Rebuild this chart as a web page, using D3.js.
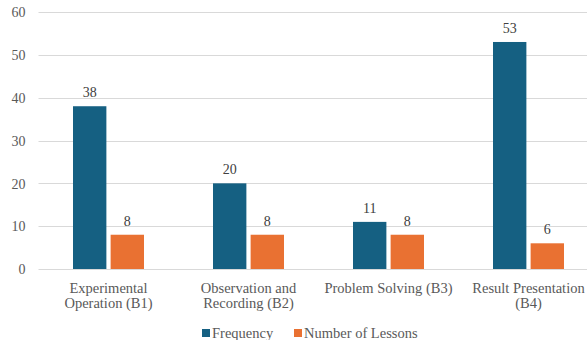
<!DOCTYPE html>
<html>
<head>
<meta charset="utf-8">
<script src="https://cdn.jsdelivr.net/npm/d3@7"></script>
<style>
  html, body { margin: 0; padding: 0; background: #ffffff; }
  svg text { font-family: "Liberation Serif", "DejaVu Serif", serif; }
</style>
</head>
<body>
<svg id="chart" width="587" height="340"></svg>
<script>
// Skill categories (two-line labels) and the two series per category
const categories = ["Experimental Operation (B1)", "Observation and Recording (B2)", "Problem Solving (B3)", "Result Presentation (B4)"];
const categoryLines = [["Experimental", "Operation (B1)"], ["Observation and", "Recording (B2)"], ["Problem Solving (B3)"], ["Result Presentation", "(B4)"]];
const seriesNames = ["Frequency", "Number of Lessons"];
const frequency = [38, 20, 11, 53];
const lessons = [8, 8, 8, 6];
const yTicks = [0, 10, 20, 30, 40, 50, 60];
const colors = ["#156082", "#E97132"];

const FONT = "'Liberation Serif', 'DejaVu Serif', serif";
const svg = d3.select("#chart");
const plot = { left: 38.5, right: 598.5, top: 12, bottom: 269 };

const x0 = d3.scaleBand().domain(categories).range([plot.left, plot.right]).padding(0);
const y = d3.scaleLinear().domain([0, 60]).range([plot.bottom, plot.top]);
const barW = 31.5, barGap = 8;
const x1 = d3.scaleBand().domain(seriesNames)
  .range([-(barW + barGap / 2), barW + barGap / 2]).paddingInner(barGap / (2 * barW + barGap));

// Gridlines and value axis labels
const yAxis = d3.axisLeft(y).tickValues(yTicks).tickSize(0).tickPadding(0);
const gy = svg.append("g").attr("transform", `translate(${plot.left},0)`).call(yAxis)
  .attr("font-family", FONT);
gy.select(".domain").remove();
gy.selectAll(".tick line").remove();
gy.selectAll(".tick text")
  .attr("x", -13).attr("dy", "0.34em")
  .attr("fill", "#595959").style("font-size", "14px")
  .style("font-family", FONT);
svg.append("g").selectAll("line").data(yTicks).join("line")
  .attr("x1", plot.left).attr("x2", 587)
  .attr("y1", d => Math.round(y(d)) + 0.5).attr("y2", d => Math.round(y(d)) + 0.5)
  .attr("stroke", "#d9d9d9").attr("stroke-width", 1);

// Bars
const rows = categories.map((c, i) => ({ cat: c, vals: [frequency[i], lessons[i]] }));
const groups = svg.append("g").selectAll("g").data(rows).join("g")
  .attr("transform", d => `translate(${x0(d.cat) + x0.bandwidth() / 2},0)`);

groups.selectAll("rect").data(d => d.vals.map((v, j) => ({ v, j }))).join("rect")
  .attr("x", d => x1(seriesNames[d.j]))
  .attr("width", x1.bandwidth())
  .attr("y", d => y(d.v))
  .attr("height", d => y(0) - y(d.v))
  .attr("fill", d => colors[d.j]);

// Value labels above bars
groups.selectAll("text.val").data(d => d.vals.map((v, j) => ({ v, j }))).join("text")
  .attr("class", "val")
  .attr("x", d => x1(seriesNames[d.j]) + x1.bandwidth() / 2)
  .attr("y", d => y(d.v) - 9)
  .attr("text-anchor", "middle")
  .attr("fill", "#404040").style("font-size", "14px").style("font-family", FONT)
  .text(d => d.v);

// Category labels
groups.append("text")
  .attr("text-anchor", "middle")
  .attr("fill", "#595959").style("font-size", "14.5px").style("font-family", FONT)
  .selectAll("tspan").data((d, i) => categoryLines[i]).join("tspan")
  .attr("x", 0)
  .attr("y", (d, k) => 293 + k * 14.5)
  .text(d => d);

// Legend
const legendItems = [
  { name: seriesNames[0], color: colors[0], x: 202 },
  { name: seriesNames[1], color: colors[1], x: 294 }
];
const lg = svg.append("g").selectAll("g").data(legendItems).join("g")
  .attr("transform", d => `translate(${d.x},0)`);
lg.append("rect").attr("x", 0).attr("y", 329).attr("width", 8).attr("height", 8)
  .attr("fill", d => d.color);
lg.append("text").attr("x", 10).attr("y", 337.5)
  .attr("fill", "#595959").style("font-size", "14.5px").style("font-family", FONT)
  .text(d => d.name);
</script>
</body>
</html>
